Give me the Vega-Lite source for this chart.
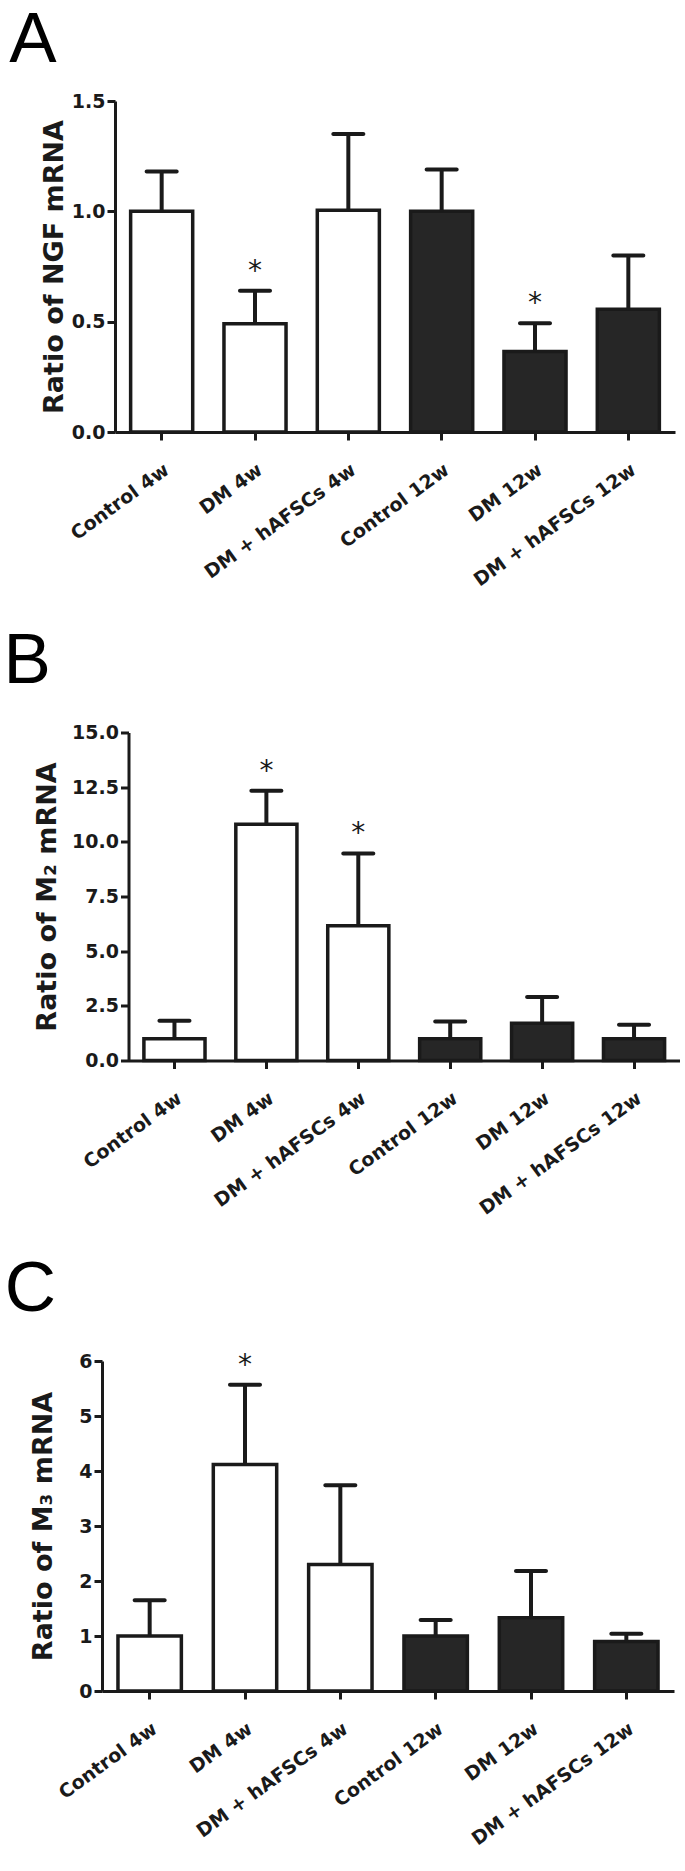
{
  "$schema": "https://vega.github.io/schema/vega-lite/v6.json",
  "background": "white",
  "padding": {"left": 3, "top": 4, "right": 0, "bottom": 0},
  "datasets": {
    "ngf": [
      {"group": "Control 4w", "period": "4w", "value": 1.0, "err": 1.18, "sig": ""},
      {"group": "DM 4w", "period": "4w", "value": 0.49, "err": 0.64, "sig": "*"},
      {"group": "DM + hAFSCs 4w", "period": "4w", "value": 1.005, "err": 1.35, "sig": ""},
      {"group": "Control 12w", "period": "12w", "value": 1.0, "err": 1.19, "sig": ""},
      {"group": "DM 12w", "period": "12w", "value": 0.365, "err": 0.493, "sig": "*"},
      {"group": "DM + hAFSCs 12w", "period": "12w", "value": 0.556, "err": 0.8, "sig": ""}
    ],
    "m2": [
      {"group": "Control 4w", "period": "4w", "value": 1.0, "err": 1.82, "sig": ""},
      {"group": "DM 4w", "period": "4w", "value": 10.8, "err": 12.34, "sig": "*"},
      {"group": "DM + hAFSCs 4w", "period": "4w", "value": 6.16, "err": 9.47, "sig": "*"},
      {"group": "Control 12w", "period": "12w", "value": 1.0, "err": 1.78, "sig": ""},
      {"group": "DM 12w", "period": "12w", "value": 1.7, "err": 2.9, "sig": ""},
      {"group": "DM + hAFSCs 12w", "period": "12w", "value": 1.0, "err": 1.64, "sig": ""}
    ],
    "m3": [
      {"group": "Control 4w", "period": "4w", "value": 1.0, "err": 1.65, "sig": ""},
      {"group": "DM 4w", "period": "4w", "value": 4.12, "err": 5.57, "sig": "*"},
      {"group": "DM + hAFSCs 4w", "period": "4w", "value": 2.3, "err": 3.74, "sig": ""},
      {"group": "Control 12w", "period": "12w", "value": 1.0, "err": 1.29, "sig": ""},
      {"group": "DM 12w", "period": "12w", "value": 1.33, "err": 2.18, "sig": ""},
      {"group": "DM + hAFSCs 12w", "period": "12w", "value": 0.9, "err": 1.04, "sig": ""}
    ]
  },
  "concat": [
    {
      "width": 573, "height": 331,
      "title": {"text": "A", "dx": -31, "offset": 15.5},
      "data": {"name": "ngf"},
      "encoding": {
        "x": {"field": "group", "type": "nominal", "sort": null, "scale": {"paddingInner": 0.335, "range": [13, 573]}, "axis": {"title": null}},
        "y": {"type": "quantitative", "scale": {"domain": [0, 1.5], "nice": false}, "axis": {"title": "Ratio of NGF mRNA", "values": [0, 0.5, 1, 1.5], "format": ".1f", "titlePadding": 3, "offset": -13}}
      },
      "layer": [
        {"mark": {"type": "bar", "stroke": "#1a1a1a", "strokeWidth": 3.5}, "encoding": {"y": {"field": "value"}, "fill": {"field": "period", "type": "nominal", "scale": {"domain": ["4w", "12w"], "range": ["white", "#262626"]}, "legend": null}}},
        {"mark": {"type": "rule", "strokeWidth": 4, "color": "#1a1a1a"}, "encoding": {"y": {"field": "value"}, "y2": {"field": "err"}}},
        {"mark": {"type": "tick", "size": 34, "thickness": 4, "color": "#1a1a1a", "cornerRadius": 2, "opacity": 1}, "encoding": {"y": {"field": "err"}}},
        {"mark": {"type": "text", "font": "DejaVu Sans", "fontSize": 28, "dy": -11, "baseline": "alphabetic", "color": "#1a1a1a"}, "encoding": {"y": {"field": "err"}, "text": {"field": "sig"}}}
      ]
    },
    {
      "width": 578, "height": 328,
      "title": {"text": "B", "dx": -30, "offset": 25.5},
      "data": {"name": "m2"},
      "encoding": {
        "x": {"field": "group", "type": "nominal", "sort": null, "scale": {"paddingInner": 0.335, "range": [26.5, 578]}, "axis": {"title": null}},
        "y": {"type": "quantitative", "scale": {"domain": [0, 15], "nice": false}, "axis": {"title": "Ratio of M₂ mRNA", "values": [0, 2.5, 5, 7.5, 10, 12.5, 15], "format": ".1f", "titlePadding": 10, "offset": -26.5}}
      },
      "layer": [
        {"mark": {"type": "bar", "stroke": "#1a1a1a", "strokeWidth": 3.5}, "encoding": {"y": {"field": "value"}, "fill": {"field": "period", "type": "nominal", "scale": {"domain": ["4w", "12w"], "range": ["white", "#262626"]}, "legend": null}}},
        {"mark": {"type": "rule", "strokeWidth": 4, "color": "#1a1a1a"}, "encoding": {"y": {"field": "value"}, "y2": {"field": "err"}}},
        {"mark": {"type": "tick", "size": 34, "thickness": 4, "color": "#1a1a1a", "cornerRadius": 2, "opacity": 1}, "encoding": {"y": {"field": "err"}}},
        {"mark": {"type": "text", "font": "DejaVu Sans", "fontSize": 28, "dy": -11, "baseline": "alphabetic", "color": "#1a1a1a"}, "encoding": {"y": {"field": "err"}, "text": {"field": "sig"}}}
      ]
    },
    {
      "width": 572, "height": 330,
      "title": {"text": "C", "dx": -25, "offset": 25.5},
      "data": {"name": "m3"},
      "encoding": {
        "x": {"field": "group", "type": "nominal", "sort": null, "scale": {"paddingInner": 0.335, "range": [0, 572]}, "axis": {"title": null}},
        "y": {"type": "quantitative", "scale": {"domain": [0, 6], "nice": false}, "axis": {"title": "Ratio of M₃ mRNA", "values": [0, 1, 2, 3, 4, 5, 6], "format": "d", "titlePadding": 21}}
      },
      "layer": [
        {"mark": {"type": "bar", "stroke": "#1a1a1a", "strokeWidth": 3.5}, "encoding": {"y": {"field": "value"}, "fill": {"field": "period", "type": "nominal", "scale": {"domain": ["4w", "12w"], "range": ["white", "#262626"]}, "legend": null}}},
        {"mark": {"type": "rule", "strokeWidth": 4, "color": "#1a1a1a"}, "encoding": {"y": {"field": "value"}, "y2": {"field": "err"}}},
        {"mark": {"type": "tick", "size": 34, "thickness": 4, "color": "#1a1a1a", "cornerRadius": 2, "opacity": 1}, "encoding": {"y": {"field": "err"}}},
        {"mark": {"type": "text", "font": "DejaVu Sans", "fontSize": 28, "dy": -11, "baseline": "alphabetic", "color": "#1a1a1a"}, "encoding": {"y": {"field": "err"}, "text": {"field": "sig"}}}
      ]
    }
  ],
  "columns": 1,
  "spacing": 35.5,
  "config": {
    "view": {"stroke": null},
    "title": {"anchor": "start", "frame": "bounds", "font": "Liberation Sans", "fontSize": 71, "fontWeight": "normal", "color": "black"},
    "axis": {
      "grid": false,
      "domainColor": "#1a1a1a", "domainWidth": 3,
      "tickColor": "#1a1a1a", "tickWidth": 3, "tickSize": 8,
      "labelFont": "DejaVu Sans", "labelFontWeight": "bold", "labelFontSize": 19, "labelColor": "#1a1a1a", "labelPadding": 2,
      "titleFont": "DejaVu Sans", "titleFontWeight": "bold", "titleFontSize": 27, "titleColor": "#1a1a1a"
    },
    "axisX": {"labelAngle": -36, "labelAlign": "right", "labelBaseline": "top", "labelPadding": 20, "labelFontSize": 19, "labelLimit": 0}
  }
}
